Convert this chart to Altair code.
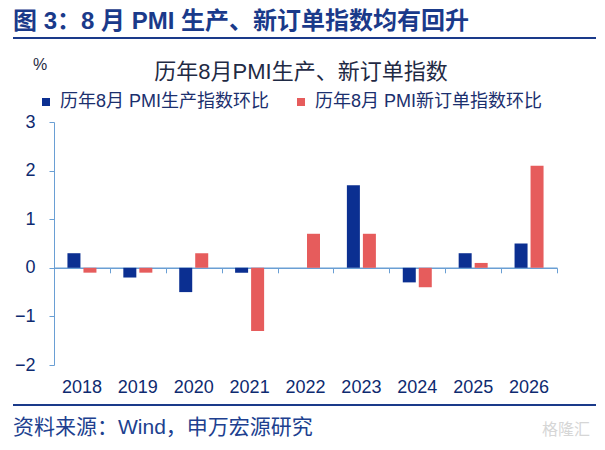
import altair as alt
import pandas as pd

# Data
years = ['2018', '2019', '2020', '2021', '2022', '2023', '2024', '2025', '2026']
production = [0.3, -0.2, -0.5, -0.1, 0.0, 1.7, -0.3, 0.3, 0.5]
new_orders = [-0.1, -0.1, 0.3, -1.3, 0.7, 0.7, -0.4, 0.1, 2.1]
series_names = ['历年8月 PMI生产指数环比', '历年8月 PMI新订单指数环比']
series_colors = ['#0b2f91', '#e65c5c']
y_ticks = [-2, -1, 0, 1, 2, 3]

heading = '图 3：8 月 PMI 生产、新订单指数均有回升'
chart_title = '历年8月PMI生产、新订单指数'
source = '资料来源：Wind，申万宏源研究'

df = pd.DataFrame({
    'year': years * 2,
    'series': [series_names[0]] * len(years) + [series_names[1]] * len(years),
    'value': production + new_orders,
})

W, H = 503, 243
FONT = 'Liberation Sans, Arial, Noto Sans CJK SC, sans-serif'
NAVY = '#1a3a8a'
LABEL = '#0e2a70'
AXIS_BLUE = '#6a9fd4'

x_scale = alt.Scale(domain=years, paddingInner=0, paddingOuter=0)
y_scale = alt.Scale(domain=[-2, 3], nice=False)

bars = alt.Chart(df).mark_bar().encode(
    x=alt.X('year:N', scale=x_scale, title=None,
            axis=alt.Axis(orient='bottom', domain=False, ticks=False, tickSize=0,
                          labelAngle=0, labelFontSize=18, labelColor=LABEL,
                          labelFont=FONT, labelPadding=13)),
    xOffset=alt.XOffset('series:N',
                        scale=alt.Scale(domain=series_names, paddingInner=0.1875,
                                        paddingOuter=0.84)),
    y=alt.Y('value:Q', scale=y_scale, title=None,
            axis=alt.Axis(values=y_ticks, grid=False, domainColor=AXIS_BLUE,
                          tickColor=AXIS_BLUE, tickSize=5, labelFontSize=18,
                          labelColor=LABEL, labelFont=FONT, labelPadding=14)),
    color=alt.Color('series:N',
                    scale=alt.Scale(domain=series_names, range=series_colors),
                    legend=alt.Legend(orient='none', legendX=-17, legendY=-29,
                                      direction='horizontal', title=None,
                                      symbolType='square', symbolSize=64,
                                      symbolStrokeWidth=0, labelFontSize=18,
                                      labelLimit=0,
                                      labelColor='#1b2f6e', labelFont=FONT,
                                      labelOffset=5, columnPadding=22)),
)

# x axis drawn along the zero line, ticks between the years
zero_axis = alt.Chart(df).mark_point(opacity=0, size=0).encode(
    x=alt.X('year:N', scale=x_scale, title=None,
            axis=alt.Axis(orient='bottom', offset=-H * 0.4, labels=False,
                          domainColor=AXIS_BLUE, domainWidth=1.5, tickColor=AXIS_BLUE,
                          tickSize=5, tickBand='extent')),
    y=alt.Y('value:Q', scale=y_scale),
)


def label(text, x, y, size, color, weight='normal', align='left'):
    return alt.Chart(pd.DataFrame({'t': [text]})).mark_text(
        align=align, baseline='middle', font=FONT, fontSize=size,
        fontWeight=weight, color=color
    ).encode(x=alt.value(x), y=alt.value(y), text='t:N')


def hline(y):
    return alt.Chart(pd.DataFrame({'t': [0]})).mark_rule(
        color=NAVY, strokeWidth=2
    ).encode(x=alt.value(-41), x2=alt.value(542), y=alt.value(y))


chart = alt.layer(
    zero_axis,
    bars,
    label(heading, -41, -100, 24, NAVY, weight='bold'),
    hline(-84),
    label('%', -21, -57, 16, '#1f2a44'),
    label(chart_title, 247, -50, 22, '#1f2a44', align='center'),
    hline(283),
    label(source, -41, 306, 21, '#203f8f'),
    label('格隆汇', 512, 308, 16, '#d6d6d6', align='center'),
).resolve_axis(
    x='independent'
).properties(
    width=W,
    height=H,
    autosize=alt.AutoSizeParams(type='none'),
    padding={'left': 46, 'top': 114, 'right': 40, 'bottom': 77},
).configure_view(
    strokeWidth=0
)

chart.save('out.html', embed_options={'renderer': 'svg', 'actions': False})
